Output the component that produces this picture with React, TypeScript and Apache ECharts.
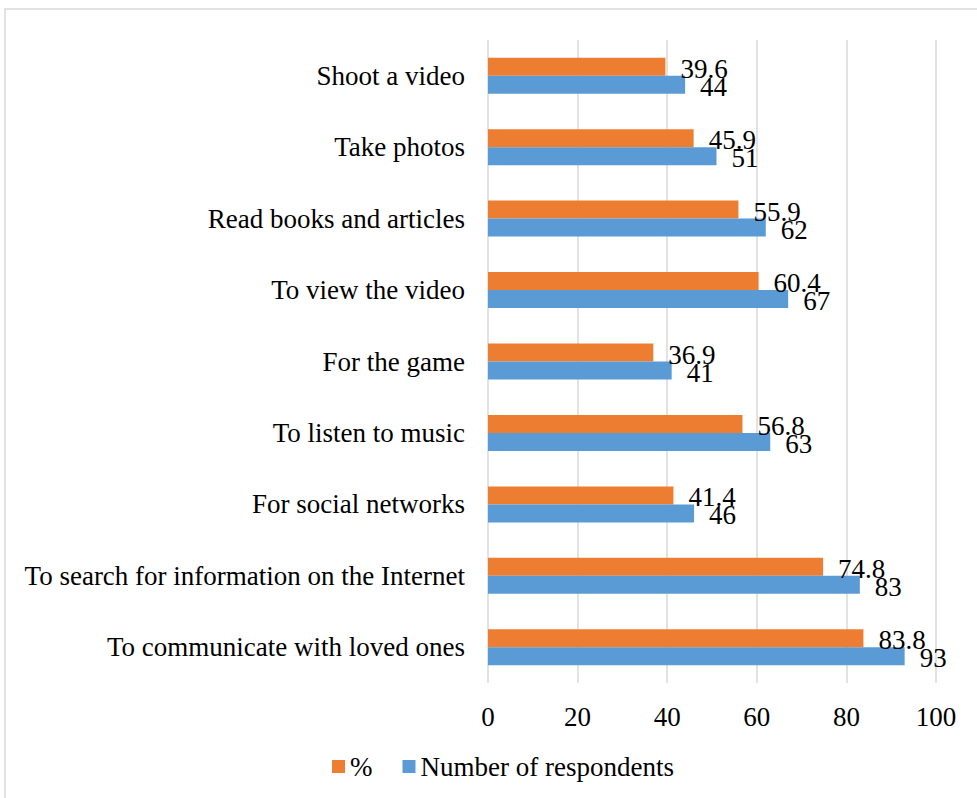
import React, { useEffect, useRef } from "react";
import * as echarts from "echarts";

const categories = [
  "To communicate with loved ones",
  "To search for information on the Internet",
  "For social networks",
  "To listen to music",
  "For the game",
  "To view the video",
  "Read books and articles",
  "Take photos",
  "Shoot a video",
];
const percentValues = [83.8, 74.8, 41.4, 56.8, 36.9, 60.4, 55.9, 45.9, 39.6];
const respondentValues = [93, 83, 46, 63, 41, 67, 62, 51, 44];
const seriesNames = ["%", "Number of respondents"];
const xTicks = { min: 0, max: 100, interval: 20 };

const FONT = "Liberation Serif";
const FS = 27;

export default function App() {
  const ref = useRef<HTMLDivElement>(null);
  useEffect(() => {
    if (!ref.current) return;
    const chart = echarts.init(ref.current, undefined, { renderer: "svg" });
    const labelStyle = {
      show: true,
      position: "right" as const,
      distance: 15,
      offset: [0, 2],
      color: "#000",
      fontFamily: FONT,
      fontSize: FS,
    };
    chart.setOption({
      animation: false,
      backgroundColor: "#fff",
      textStyle: { fontFamily: FONT, fontSize: FS, color: "#000" },
      graphic: [
        {
          type: "rect",
          shape: { x: 5, y: 9, width: 1100, height: 1100 },
          style: { fill: "none", stroke: "#d9d9d9", lineWidth: 1.5 },
          silent: true,
        },
      ],
      grid: { left: 488, right: 41, top: 40, bottom: 115, containLabel: false },
      legend: {
        bottom: 13,
        left: 327,
        itemWidth: 13,
        itemHeight: 13,
        itemGap: 30,
        icon: "rect",
        textStyle: { fontFamily: FONT, fontSize: FS, color: "#000" },
        data: seriesNames,
      },
      xAxis: {
        type: "value",
        min: xTicks.min,
        max: xTicks.max,
        interval: xTicks.interval,
        axisLine: { show: false },
        axisTick: { show: false },
        splitLine: { show: true, lineStyle: { color: "#d9d9d9", width: 1.5 } },
        axisLabel: { color: "#000", fontFamily: FONT, fontSize: FS, margin: 20 },
      },
      yAxis: {
        type: "category",
        data: categories,
        axisLine: { show: false },
        axisTick: { show: false },
        splitLine: { show: false },
        axisLabel: { color: "#000", fontFamily: FONT, fontSize: FS, margin: 23 },
      },
      series: [
        {
          name: seriesNames[0],
          type: "bar",
          data: percentValues,
          barWidth: 18,
          barGap: "0%",
          itemStyle: { color: "#ED7D31" },
          label: labelStyle,
        },
        {
          name: seriesNames[1],
          type: "bar",
          data: respondentValues,
          barWidth: 18,
          barGap: "0%",
          itemStyle: { color: "#5B9BD5" },
          label: labelStyle,
        },
      ],
    });
    return () => chart.dispose();
  }, []);
  return (
    <div
      ref={ref}
      style={{ position: "absolute", left: 0, top: 0, width: 977, height: 798 }}
    />
  );
}
